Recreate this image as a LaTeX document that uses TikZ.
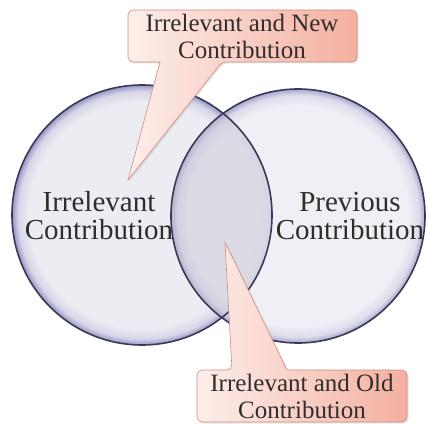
\documentclass[tikz,border=0pt]{standalone}
\usepackage{fontspec}
\setmainfont{Liberation Serif}
\usetikzlibrary{shadows}
\definecolor{venncen}{RGB}{236,236,243}
\definecolor{vennmid}{RGB}{214,214,232}
\definecolor{vennrim}{RGB}{150,150,196}
\definecolor{vennline}{RGB}{58,58,88}
\definecolor{lensgray}{RGB}{200,200,214}
\definecolor{calllight}{RGB}{253,238,234}
\definecolor{calldark}{RGB}{244,176,160}
\definecolor{callline}{RGB}{205,140,128}
\definecolor{dctext}{RGB}{50,45,45}
\pgfdeclareradialshading{vennglass}{\pgfpoint{0bp}{0bp}}{color(0bp)=(venncen); color(21.8bp)=(venncen); color(23.8bp)=(vennmid); color(25bp)=(vennrim); color(50bp)=(vennrim)}

\begin{document}
\begin{tikzpicture}[x=1pt,y=-1pt,
  venn/.style={circle,inner sep=0pt,shading=vennglass},
  rim/.style={draw=vennline,line width=1.6pt},
  lbl/.style={font=\fontsize{29}{28}\selectfont,text=dctext,align=center},
  callout/.style={draw=callline,line width=0.6pt,left color=calllight,right color=calldark,
                  drop shadow={opacity=0.2,shadow xshift=1.5pt,shadow yshift=-1.5pt}},
  calltext/.style={font=\fontsize{25}{27}\selectfont,text=dctext,align=center}
]
  \useasboundingbox (0,0) rectangle (428,425);

  % the two sets
  \node[venn,minimum size=260pt] (irr)  at (142,215) {};
  \node[venn,minimum size=254pt,opacity=0.85] (prev) at (298,216) {};
  \begin{scope}
    \clip (irr.center) circle[radius=130pt];
    \fill[lensgray,fill opacity=0.45] (prev.center) circle[radius=127pt];
  \end{scope}

  \node[lbl] (irrlbl)  at (99,216)  {Irrelevant\\Contribution};
  \node[lbl] (prevlbl) at (350,216) {Previous\\Contribution};

  \draw[rim] (irr.center)  circle[radius=130pt];
  \draw[rim] (prev.center) circle[radius=127pt];

  % callouts
  \coordinate (newtip) at (128,180);
  \coordinate (oldtip) at (225,242);

  \path[callout,rounded corners=5pt] (240,10) -- (357,10) -- (357,62) -- (222,62)
    [sharp corners] -- (newtip) -- (160,62) [rounded corners=5pt] -- (128,62) -- (128,10) -- cycle;
  \node[calltext] (newc) at (242,36) {Irrelevant and New\\Contribution};

  \path[callout,rounded corners=5pt] (300,370) -- (407,370) -- (407,422) -- (197,422) -- (197,370)
    -- (232,370) [sharp corners] -- (oldtip) -- (287,370) [rounded corners=5pt] -- cycle;
  \node[calltext] (oldc) at (302,396) {Irrelevant and Old\\Contribution};
\end{tikzpicture}
\end{document}
